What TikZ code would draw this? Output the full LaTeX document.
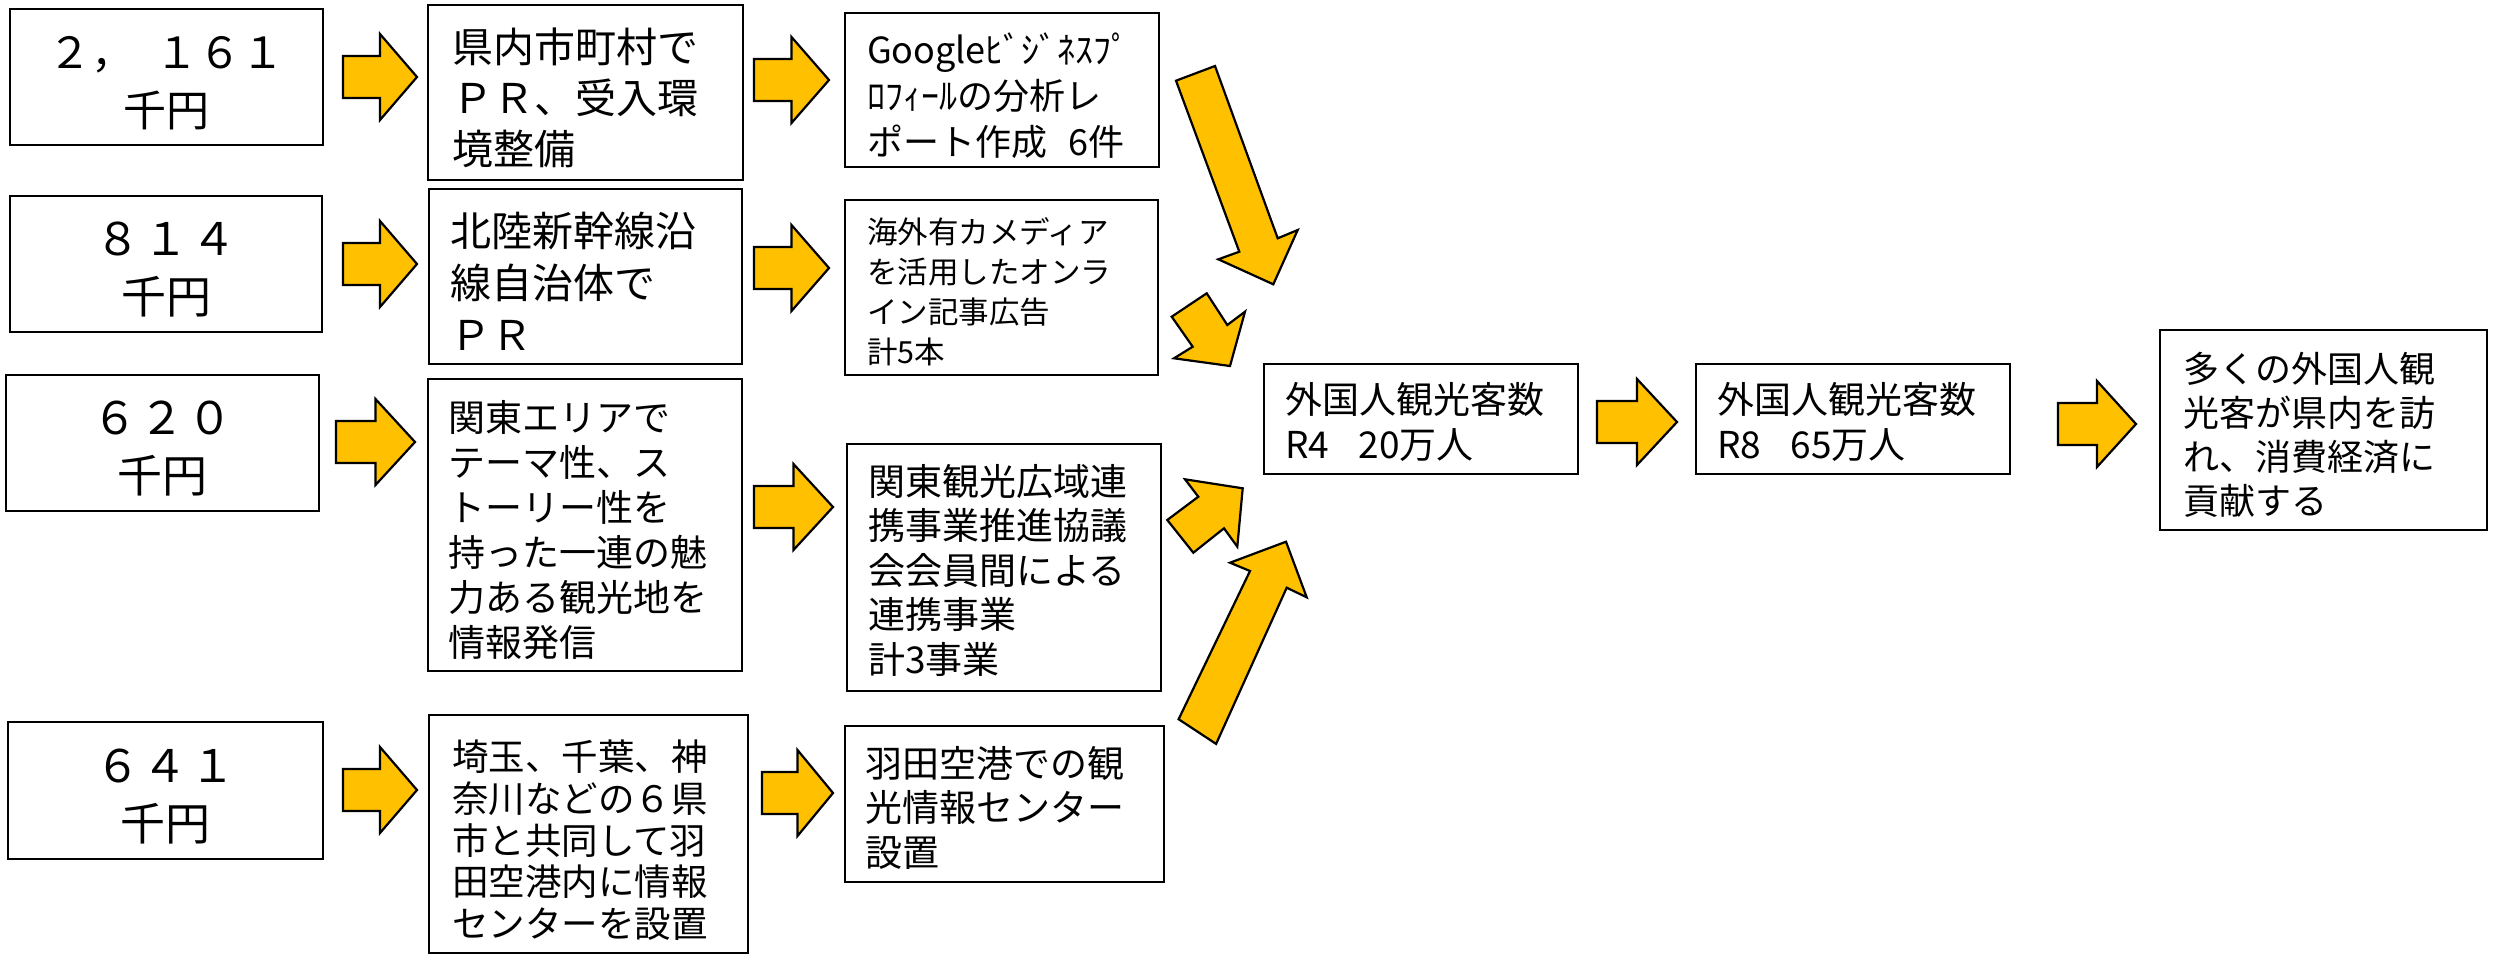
\documentclass[tikz,border=0pt]{standalone}
\usepackage{fontspec}
\setmainfont{Noto Sans CJK JP}
\definecolor{arrowgold}{HTML}{FFC000}
\begin{document}
\begin{tikzpicture}[x=1pt,y=-1pt,
  box/.style={draw=black,line width=2.2pt,fill=white,inner sep=0pt,outer sep=0pt,anchor=north west},
  arr/.style={draw=black,line width=2.2pt,fill=arrowgold,line join=miter},
  txt/.style={anchor=north west,inner sep=0pt,outer sep=0pt,align=left},
  amt/.style={inner sep=0pt,outer sep=0pt,align=center},
  pics/harr/.style={code={\draw[arr] (0,-21) -- ({#1/2},-21) -- ({#1/2},-43) -- (#1,0) -- ({#1/2},43) -- ({#1/2},21) -- (0,21) -- cycle;}}
]
\useasboundingbox (0,0) rectangle (2503,956);

% boxes
\node[box,minimum width=313pt,minimum height=136pt] (b11) at (10,9) {};
\node[box,minimum width=312pt,minimum height=136pt] (b21) at (10,196) {};
\node[box,minimum width=313pt,minimum height=136pt] (b31) at (6,375) {};
\node[box,minimum width=315pt,minimum height=137pt] (b41) at (8,722) {};
\node[box,minimum width=315pt,minimum height=175pt] (b12) at (428,5) {};
\node[box,minimum width=313pt,minimum height=175pt] (b22) at (429,189) {};
\node[box,minimum width=314pt,minimum height=292pt] (b32) at (428,379) {};
\node[box,minimum width=319pt,minimum height=238pt] (b42) at (429,715) {};
\node[box,minimum width=314pt,minimum height=154pt] (b13) at (845,13) {};
\node[box,minimum width=313pt,minimum height=175pt] (b23) at (845,200) {};
\node[box,minimum width=314pt,minimum height=247pt] (b33) at (847,444) {};
\node[box,minimum width=319pt,minimum height=156pt] (b43) at (845,726) {};
\node[box,minimum width=314pt,minimum height=110pt] (b5) at (1264,364) {};
\node[box,minimum width=314pt,minimum height=110pt] (b6) at (1696,364) {};
\node[box,minimum width=327pt,minimum height=200pt] (b7) at (2160,330) {};

% amounts
\node[amt,font=\fontsize{43}{58}\selectfont] (a11) at ([yshift=-6pt]b11.center) {２，\hspace{0.5em}１６１\\千円};
\node[amt,font=\fontsize{45}{58}\selectfont] (a21) at ([yshift=-6pt]b21.center) {８\kern3pt １\kern3pt ４\\千円};
\node[amt,font=\fontsize{45}{58}\selectfont] (a31) at ([yshift=-6pt]b31.center) {６\kern3pt ２\kern3pt ０\\千円};
\node[amt,font=\fontsize{45}{58}\selectfont] (a41) at ([yshift=-6pt]b41.center) {６\kern3pt ４\kern3pt １\\千円};

% texts
\node[txt,font=\fontsize{41}{51}\selectfont] (t12) at (452,28) {県内市町村で\\ＰＲ、受入環\\境整備};
\node[txt,font=\fontsize{41}{52}\selectfont] (t22) at (450,212) {北陸新幹線沿\\線自治体で\\ＰＲ};
\node[txt,font=\fontsize{37}{45}\selectfont] (t32) at (448,400) {関東エリアで\\テーマ性、ス\\トーリー性を\\持った一連の魅\\力ある観光地を\\情報発信};
\node[txt,font=\fontsize{36.5}{41.7}\selectfont] (t42) at (452,740) {埼玉、千葉、神\\奈川などの６県\\市と共同して羽\\田空港内に情報\\センターを設置};
\node[txt,font=\fontsize{36}{46}\selectfont] (t13) at (867,33) {Googleﾋﾞｼﾞﾈｽﾌﾟ\\ﾛﾌｨｰﾙの分析レ\\ポート作成\hspace{0.6em}6件};
\node[txt,font=\fontsize{30.5}{40}\selectfont] (t23) at (867,218) {海外有カメディア\\を活用したオンラ\\イン記事広告\\計5本};
\node[txt,font=\fontsize{37}{44.6}\selectfont] (t33) at (868,464) {関東観光広域連\\携事業推進協議\\会会員間による\\連携事業\\計3事業};
\node[txt,font=\fontsize{37}{44.5}\selectfont] (t43) at (865,746) {羽田空港での観\\光情報センター\\設置};
\node[txt,font=\fontsize{37}{45}\selectfont] (t5) at (1285,382) {外国人観光客数\\R4\hspace{0.8em}20万人};
\node[txt,font=\fontsize{37}{45}\selectfont] (t6) at (1717,382) {外国人観光客数\\R8\hspace{0.8em}65万人};
\node[txt,font=\fontsize{36}{44}\selectfont] (t7) at (2183,352) {多くの外国人観\\光客が県内を訪\\れ、消費経済に\\貢献する};

% horizontal block arrows
\pic at (343,77) {harr=74};
\pic at (754,80) {harr=75};
\pic at (343,264) {harr=74};
\pic at (754,268) {harr=75};
\pic at (336,442) {harr=79};
\pic at (754,507) {harr=79};
\pic at (343,790) {harr=74};
\pic at (762,793) {harr=71};
\pic at (1597,422) {harr=80};
\pic at (2058,424) {harr=78};

% diagonal block arrows
\draw[arr] (1176,80.7) -- (1215,66) -- (1277.7,238.3) -- (1297.7,230) -- (1273.3,284.3) -- (1218.3,259.3) -- (1239.3,251.7) -- cycle;
\draw[arr] (1171.7,316.7) -- (1206.7,293.3) -- (1227.3,325) -- (1245,311.7) -- (1230,366) -- (1174,358.3) -- (1192.7,346.7) -- cycle;
\draw[arr] (1193.3,552.7) -- (1167.3,520) -- (1198.3,496.7) -- (1185,479.3) -- (1242.7,488.3) -- (1237.3,546.7) -- (1224,528.3) -- cycle;
\draw[arr] (1178.6,719.2) -- (1250,571) -- (1230,562.7) -- (1286,541.7) -- (1306.7,597.3) -- (1286.7,587.7) -- (1216.1,743.9) -- cycle;
\end{tikzpicture}
\end{document}
